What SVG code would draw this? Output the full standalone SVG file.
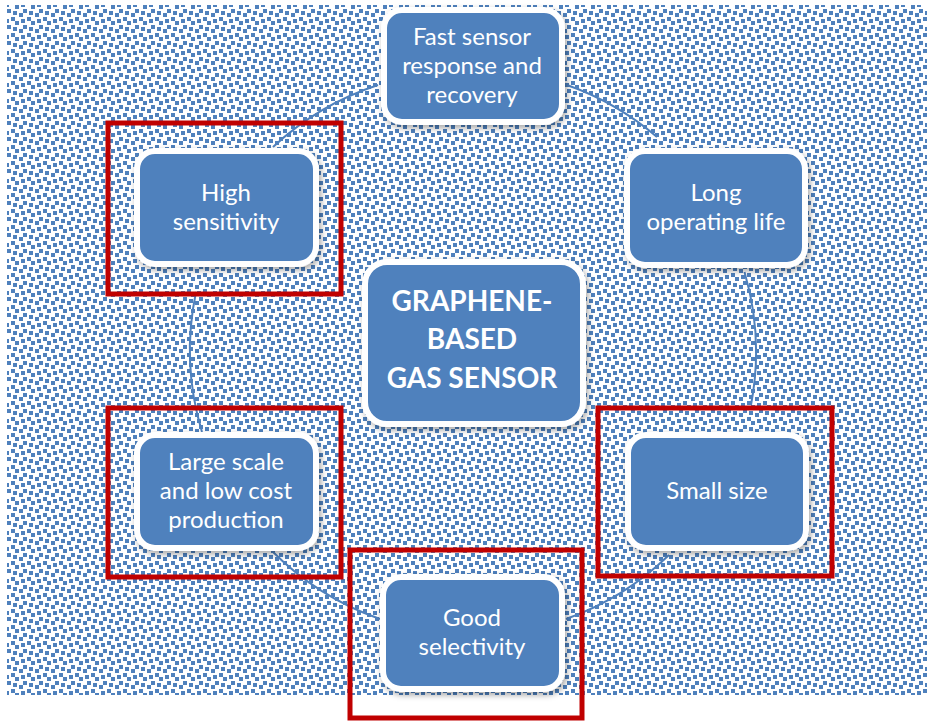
<svg xmlns="http://www.w3.org/2000/svg" width="927" height="723" viewBox="0 0 927 723">
<defs>
<pattern id="dots" x="7" y="5" width="16" height="16" patternUnits="userSpaceOnUse">
<g fill="#4f81bd">
<rect x="8" y="0" width="4" height="4"/>
<rect x="0" y="4" width="4" height="4"/>
<rect x="6" y="6" width="4" height="4"/>
<rect x="12" y="8" width="4" height="4"/>
<rect x="4" y="12" width="4" height="4"/>
<rect x="14" y="14" width="4" height="4"/>
<rect x="-2" y="14" width="4" height="4"/>
<rect x="14" y="-2" width="4" height="4"/>
<rect x="-2" y="-2" width="4" height="4"/>
</g>
</pattern>
<filter id="sh" x="-20%" y="-20%" width="140%" height="140%">
<feDropShadow dx="2" dy="3" stdDeviation="3" flood-color="#000" flood-opacity="0.35"/>
</filter>
<style>
.node{fill:#4f81bd;stroke:#fff;stroke-width:6;filter:url(#sh)}
.t{font-family:Lato,"Open Sans","Liberation Sans",sans-serif;font-size:24px;fill:#fff;text-anchor:middle}
.tb{font-family:Lato,"Open Sans","Liberation Sans",sans-serif;font-size:28px;font-weight:bold;fill:#fff;text-anchor:middle}
.conn{fill:none;stroke:#4f81bd;stroke-width:2}
.hl{fill:none;stroke:#c00000;stroke-width:5}
</style>
</defs>
<rect x="0" y="0" width="927" height="723" fill="#fff"/>
<rect x="7" y="5" width="920" height="690" fill="url(#dots)"/>
<g id="connectors">
<path class="conn" d="M 273 147 A 283 283 0 0 1 378 85"/>
<path class="conn" d="M 567 85 A 283 283 0 0 1 657 137"/>
<path class="conn" d="M 744.5 272 A 283 283 0 0 1 751 405"/>
<path class="conn" d="M 669 555 A 283 283 0 0 1 566 619"/>
<path class="conn" d="M 380 619 A 283 283 0 0 1 272 551"/>
<path class="conn" d="M 202 432 A 283 283 0 0 1 196 292"/>
</g>
<g id="node-top">
<rect class="node" x="384" y="10" width="178" height="112" rx="18"/>
<text class="t" x="472" y="45">Fast sensor</text>
<text class="t" x="472" y="74">response and</text>
<text class="t" x="472" y="103">recovery</text>
</g>
<g id="node-high">
<rect class="node" x="137" y="151" width="179" height="113" rx="18"/>
<text class="t" x="226" y="201">High</text>
<text class="t" x="226" y="230">sensitivity</text>
</g>
<g id="node-long">
<rect class="node" x="627" y="151" width="178" height="114" rx="18"/>
<text class="t" x="716" y="201">Long</text>
<text class="t" x="716" y="230">operating life</text>
</g>
<g id="node-center">
<rect class="node" x="365" y="262" width="218" height="162" rx="22"/>
<text class="tb" x="472" y="311">GRAPHENE-</text>
<text class="tb" x="472" y="349">BASED</text>
<text class="tb" x="472" y="388">GAS SENSOR</text>
</g>
<g id="node-large">
<rect class="node" x="137" y="435" width="179" height="113" rx="18"/>
<text class="t" x="226" y="470">Large scale</text>
<text class="t" x="226" y="499">and low cost</text>
<text class="t" x="226" y="528">production</text>
</g>
<g id="node-small">
<rect class="node" x="628" y="435" width="178" height="113" rx="18"/>
<text class="t" x="717" y="499">Small size</text>
</g>
<g id="node-good">
<rect class="node" x="383" y="577" width="179" height="112" rx="18"/>
<text class="t" x="472" y="626">Good</text>
<text class="t" x="472" y="655">selectivity</text>
</g>
<g id="highlights">
<rect class="hl" x="108" y="123" width="233" height="171"/>
<rect class="hl" x="108" y="408" width="233" height="169"/>
<rect class="hl" x="598" y="408" width="234" height="168"/>
<rect class="hl" x="350" y="550" width="232" height="168"/>
</g>
</svg>
